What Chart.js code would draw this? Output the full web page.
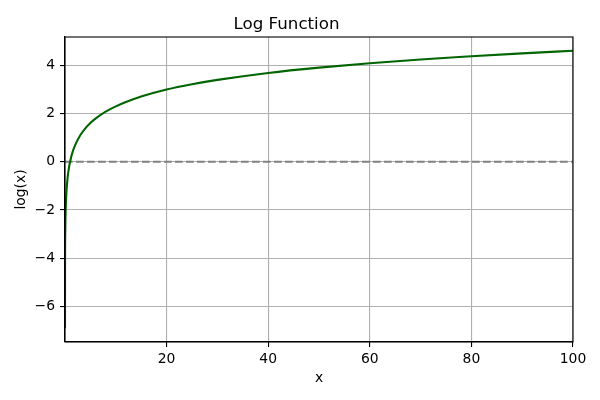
<!DOCTYPE html>
<html>
<head>
<meta charset="utf-8">
<script src="https://cdn.jsdelivr.net/npm/chart.js@4.4.0/dist/chart.umd.min.js"></script>
<style>
  html, body { margin: 0; padding: 0; background: #ffffff; }
  #wrap { width: 600px; height: 400px; }
</style>
</head>
<body>
<div id="wrap"><canvas id="c" width="600" height="400"></canvas></div>
<script>
// Data
const xValues = [0.001, 0.01, 0.05, 0.1, 0.2, 0.3, 0.5, 0.7, 1, 1.5, 2, 3, 4, 5, 6, 8, 10, 12, 15, 20, 25, 30, 40, 50, 60, 70, 80, 90, 100];
const logValues = [-6.91, -4.61, -3.00, -2.30, -1.61, -1.20, -0.69, -0.36, 0.00, 0.41, 0.69, 1.10, 1.39, 1.61, 1.79, 2.08, 2.30, 2.48, 2.71, 3.00, 3.22, 3.40, 3.69, 3.91, 4.09, 4.25, 4.38, 4.50, 4.61];
const zeroLineX = [0.001, 100];
const zeroLineY = [0, 0];
const xTicks = [20, 40, 60, 80, 100];
const yTicks = [-6, -4, -2, 0, 2, 4];

const FONT = 'DejaVu Sans';
const tickFont = { family: FONT, size: 13.9 };

const frame = {
  id: 'frame',
  afterDatasetsDraw(chart) {
    const a = chart.chartArea, ctx = chart.ctx;
    ctx.save();
    ctx.strokeStyle = '#000';
    ctx.lineWidth = 1.1;
    ctx.strokeRect(a.left, a.top, a.right - a.left, a.bottom - a.top);
    ctx.restore();
  }
};

new Chart(document.getElementById('c'), {
  type: 'line',
  data: {
    datasets: [
      {
        data: xValues.map((x, i) => ({ x: x, y: logValues[i] })),
        borderColor: '#006400',
        borderWidth: 2.08,
        pointRadius: 0,
        cubicInterpolationMode: 'monotone',
        fill: false
      },
      {
        data: zeroLineX.map((x, i) => ({ x: x, y: zeroLineY[i] })),
        borderColor: '#808080',
        borderWidth: 2.08,
        borderDash: [7.7, 3.3],
        pointRadius: 0,
        fill: false
      }
    ]
  },
  options: {
    responsive: false,
    animation: false,
    layout: { padding: { left: 0, right: 27, top: 0, bottom: 0 } },
    plugins: {
      legend: { display: false },
      tooltip: { enabled: false },
      title: {
        display: true,
        text: 'Log Function',
        color: '#000',
        font: { family: FONT, size: 16.67, weight: 'normal' },
        padding: { top: 15, bottom: 2 }
      }
    },
    scales: {
      x: {
        type: 'linear',
        min: 0.001,
        max: 100,
        afterBuildTicks: s => { s.ticks = xTicks.map(v => ({ value: v })); },
        afterFit: s => { s.height = 58; },
        grid: { color: '#b0b0b0', lineWidth: 1.1, tickColor: '#000', tickLength: 5, tickWidth: 1.1 },
        border: { color: '#000', width: 1.1 },
        ticks: { color: '#000', font: tickFont, padding: 4, maxRotation: 0 },
        title: { display: true, text: 'x', color: '#000', font: tickFont, padding: { top: 0, bottom: 13.6 } }
      },
      y: {
        type: 'linear',
        min: -7.483,
        max: 5.181,
        afterBuildTicks: s => { s.ticks = yTicks.map(v => ({ value: v })); },
        afterFit: s => { s.width = 65; },
        grid: { color: '#b0b0b0', lineWidth: 1.1, tickColor: '#000', tickLength: 5, tickWidth: 1.1 },
        border: { color: '#000', width: 1.1 },
        ticks: { color: '#000', font: tickFont, padding: 5, callback: v => String(v).replace('-', '\u2212') },
        title: { display: true, text: 'log(x)', color: '#000', font: tickFont, padding: { top: 12.6, bottom: 0 } }
      }
    }
  },
  plugins: [frame]
});
</script>
</body>
</html>
